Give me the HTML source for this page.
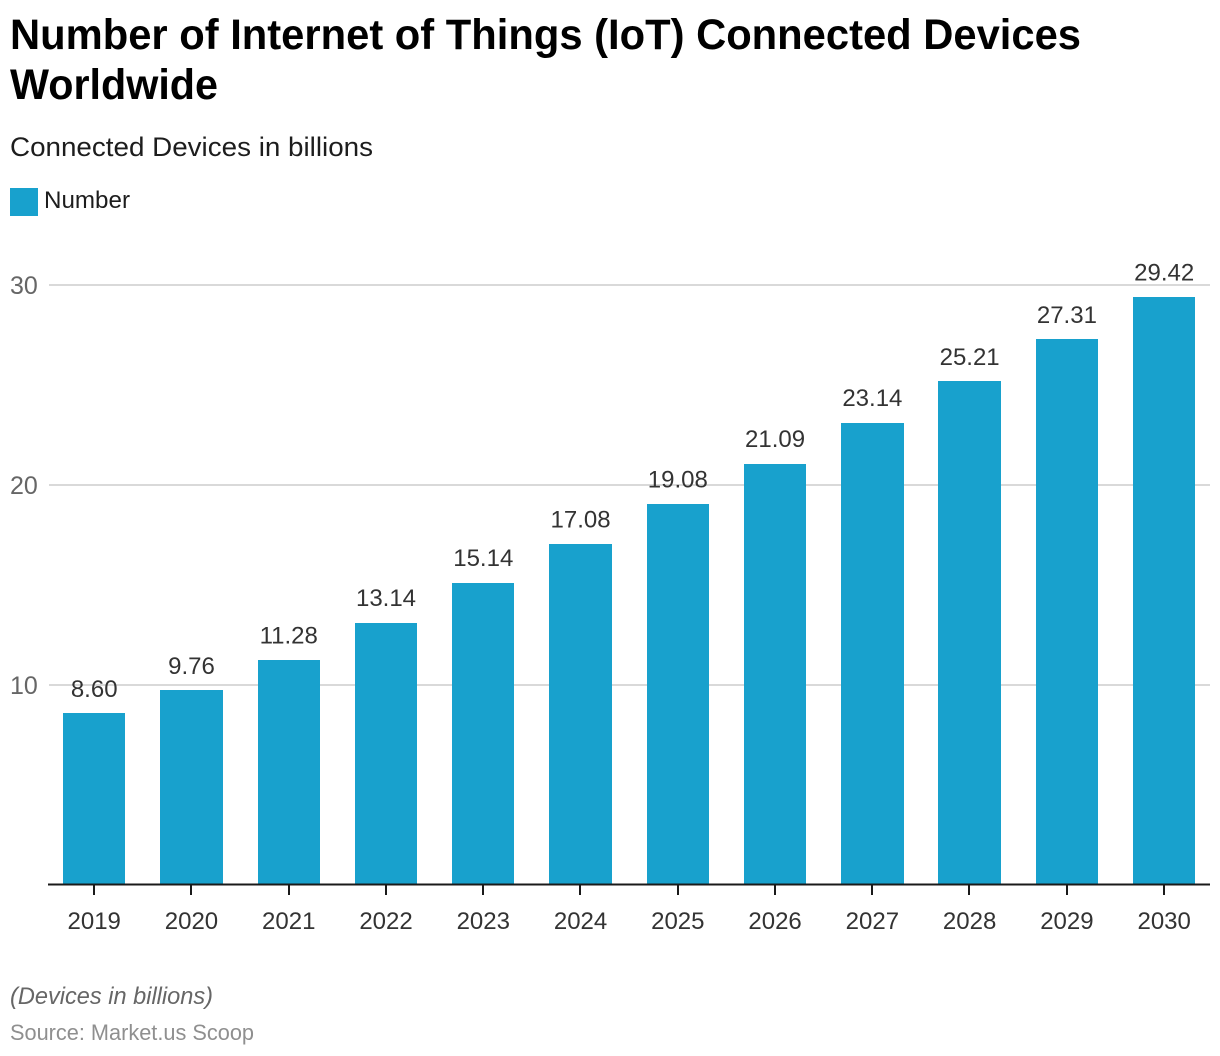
<!DOCTYPE html>
<html lang="en">
<head>
<meta charset="utf-8">
<title>Number of Internet of Things (IoT) Connected Devices Worldwide</title>
<style>
html,body{margin:0;padding:0;background:#fff;width:1220px;height:1056px;overflow:hidden}
svg{display:block;font-family:"Liberation Sans",sans-serif}
</style>
</head>
<body>
<svg id="chart" width="1220" height="1056" viewBox="0 0 1220 1056" xmlns="http://www.w3.org/2000/svg">
  <text x="10" y="49" font-size="43" font-weight="700" fill="#000" textLength="1071" lengthAdjust="spacingAndGlyphs">Number of Internet of Things (IoT) Connected Devices</text>
  <text x="10" y="99" font-size="43" font-weight="700" fill="#000" textLength="208" lengthAdjust="spacingAndGlyphs">Worldwide</text>
  <text x="10" y="156" font-size="27" fill="#1d1d1d" textLength="363" lengthAdjust="spacingAndGlyphs">Connected Devices in billions</text>
  <rect x="10" y="188" width="28" height="28" fill="#18a1cd"></rect>
  <text x="44" y="208" font-size="24" fill="#1d1d1d" textLength="86" lengthAdjust="spacingAndGlyphs">Number</text>
  <g id="grid"></g>
  <g id="bars"></g>
  <g id="values"></g>
  <g id="xaxis"></g>
  <text x="10" y="1004" font-size="24" font-style="italic" fill="#666" textLength="203" lengthAdjust="spacingAndGlyphs">(Devices in billions)</text>
  <text x="10" y="1040" font-size="22" fill="#8f8f8f" textLength="244" lengthAdjust="spacingAndGlyphs">Source: Market.us Scoop</text>
</svg>
<script>
const categories = ['2019','2020','2021','2022','2023','2024','2025','2026','2027','2028','2029','2030'];
const seriesValues = [8.60,9.76,11.28,13.14,15.14,17.08,19.08,21.09,23.14,25.21,27.31,29.42];
const yTicks = [10,20,30];

const NS = 'http://www.w3.org/2000/svg';
const baseY = 885;
const pxPerUnit = 20;
const firstCenter = 94.2;
const bandStep = 97.27;
const barWidth = 62.4;
const y = v => baseY - v * pxPerUnit;
const x = i => firstCenter + i * bandStep;

function make(tag, attrs, parent, content) {
  const el = document.createElementNS(NS, tag);
  for (const k in attrs) el.setAttribute(k, attrs[k]);
  if (content !== undefined) el.textContent = content;
  parent.appendChild(el);
  return el;
}

const gridG = document.getElementById('grid');
yTicks.forEach(t => {
  const line = make('line', {x1:49, x2:1210, y1:y(t), y2:y(t), stroke:'#d9d9d9', 'stroke-width':2}, gridG);
  
  
  const label = make('text', {x:10, y:y(t)+9, 'font-size':25, fill:'#666'}, gridG, String(t));
  
  
});

const barsG = document.getElementById('bars');
const valuesG = document.getElementById('values');
seriesValues.forEach((v, i) => {
  const left = Math.round(x(i) - barWidth / 2);
  const right = Math.round(x(i) + barWidth / 2);
  const top = Math.ceil(y(v));
  const bar = make('rect', {x:left, y:top, width:right-left, height:baseY-top, fill:'#18a1cd'}, barsG);
  
  
  const label = make('text', {x:x(i), y:y(v)-16, 'font-size':24, fill:'#333', 'text-anchor':'middle'}, valuesG, v.toFixed(2));
  
  
});

const xG = document.getElementById('xaxis');
const axisLine = make('line', {x1:48, x2:1210, y1:baseY-0.5, y2:baseY-0.5, stroke:'#1a1a1a', 'stroke-width':2}, xG);


categories.forEach((c, i) => {
  const tickX = Math.round(x(i) - 0.2);
  const tick = make('line', {x1:tickX, x2:tickX, y1:baseY, y2:baseY+10, stroke:'#1a1a1a', 'stroke-width':2}, xG);
  
  
  const label = make('text', {x:x(i), y:929, 'font-size':24, fill:'#333', 'text-anchor':'middle'}, xG, c);
  
  
});
</script>
</body>
</html>
